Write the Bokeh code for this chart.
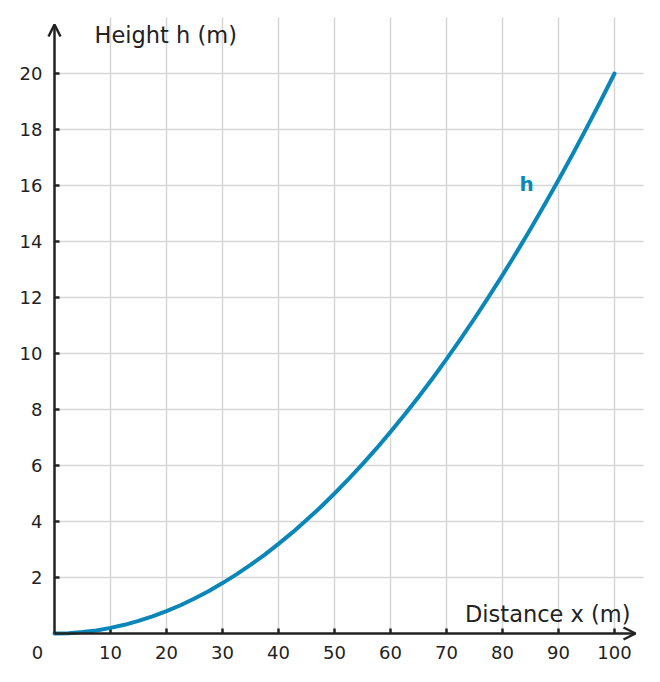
from bokeh.plotting import figure
from bokeh.models import Range1d, Arrow, OpenHead, ColumnDataSource
from bokeh.core.properties import value
from bokeh.embed import file_html
from bokeh.resources import INLINE

# distance x (m) and height h (m)
distance = [0, 2.5, 5, 7.5, 10, 12.5, 15, 17.5, 20, 22.5, 25, 27.5, 30, 32.5,
            35, 37.5, 40, 42.5, 45, 47.5, 50, 52.5, 55, 57.5, 60, 62.5, 65,
            67.5, 70, 72.5, 75, 77.5, 80, 82.5, 85, 87.5, 90, 92.5, 95, 97.5,
            100]
height = [0, 0.01, 0.05, 0.11, 0.2, 0.31, 0.45, 0.61, 0.8, 1.01, 1.25, 1.51,
          1.8, 2.11, 2.45, 2.81, 3.2, 3.61, 4.05, 4.51, 5.0, 5.51, 6.05, 6.61,
          7.2, 7.81, 8.45, 9.11, 9.8, 10.51, 11.25, 12.01, 12.8, 13.61, 14.45,
          15.31, 16.2, 17.11, 18.05, 19.01, 20.0]

x_ticks = [10, 20, 30, 40, 50, 60, 70, 80, 90, 100]
y_ticks = [2, 4, 6, 8, 10, 12, 14, 16, 18, 20]

FONT = value("DejaVu Sans")
AXIS_COLOR = "#222222"
GRID_COLOR = "#d6d6d6"
LINE_COLOR = "#0a87b8"

# pixels per data unit and data extent of the drawing area
KX, KY = 5.6, 28.0
X_MIN, X_MAX = -54 / KX, -54 / KX + 652 / KX
Y_MAX, Y_MIN = 633 / KY, (633 - 674) / KY
GRID_X_END, GRID_Y_END = 105.2, 22.0

p = figure(width=652, height=674, output_backend="svg", toolbar_location=None,
           x_axis_location=None, y_axis_location=None,
           x_range=Range1d(X_MIN, X_MAX), y_range=Range1d(Y_MIN, Y_MAX),
           min_border=0)
p.outline_line_color = None
p.grid.visible = False

# grid
p.segment(x0=x_ticks, y0=[0] * len(x_ticks), x1=x_ticks,
          y1=[GRID_Y_END] * len(x_ticks), line_color=GRID_COLOR, line_width=1.5)
p.segment(x0=[0] * len(y_ticks), y0=y_ticks, x1=[GRID_X_END] * len(y_ticks),
          y1=y_ticks, line_color=GRID_COLOR, line_width=1.5)

# ticks pointing into the plot
p.segment(x0=x_ticks, y0=[0] * len(x_ticks), x1=x_ticks,
          y1=[5 / KY] * len(x_ticks), line_color=AXIS_COLOR, line_width=2.5)
p.segment(x0=[0] * len(y_ticks), y0=y_ticks, x1=[5 / KX] * len(y_ticks),
          y1=y_ticks, line_color=AXIS_COLOR, line_width=2.5)

# tick labels
xlab = ColumnDataSource(dict(x=x_ticks, y=[-19 / KY] * len(x_ticks),
                             t=[str(v) for v in x_ticks]))
ylab = ColumnDataSource(dict(x=[-12 / KX] * len(y_ticks), y=y_ticks,
                             t=[str(v) for v in y_ticks]))
p.text(x="x", y="y", text="t", source=xlab, text_align="center",
       text_baseline="middle", text_font=FONT, text_font_size="18px",
       text_color=AXIS_COLOR)
p.text(x="x", y="y", text="t", source=ylab, text_align="right",
       text_baseline="middle", text_font=FONT, text_font_size="18px",
       text_color=AXIS_COLOR)
p.text(x=[-17 / KX], y=[-19 / KY], text=["0"], text_align="center",
       text_baseline="middle", text_font=FONT, text_font_size="18px",
       text_color=AXIS_COLOR)

# the curve
p.line(distance, height, line_color=LINE_COLOR, line_width=4,
       line_join="round", line_cap="round")

# axis arrows
head = dict(size=12, line_color=AXIS_COLOR, line_width=2.5)
p.add_layout(Arrow(x_start=0, y_start=0, x_end=103.75, y_end=0,
                   line_color=AXIS_COLOR, line_width=2.5, end=OpenHead(**head)))
p.add_layout(Arrow(x_start=0, y_start=0, x_end=0, y_end=21.75,
                   line_color=AXIS_COLOR, line_width=2.5, end=OpenHead(**head)))

# titles and series label
p.text(x=[40 / KX], y=[21.36], text=["Height h (m)"], text_align="left",
       text_baseline="middle", text_font=FONT, text_font_size="22.5px",
       text_color=AXIS_COLOR)
p.text(x=[102.86], y=[0.71], text=["Distance x (m)"], text_align="right",
       text_baseline="middle", text_font=FONT, text_font_size="22.5px",
       text_color=AXIS_COLOR)
p.text(x=[84.3], y=[16.07], text=["h"], text_align="center",
       text_baseline="middle", text_font=FONT, text_font_style="bold",
       text_font_size="20px", text_color=LINE_COLOR)

open("out.html", "w").write(file_html(p, INLINE))
